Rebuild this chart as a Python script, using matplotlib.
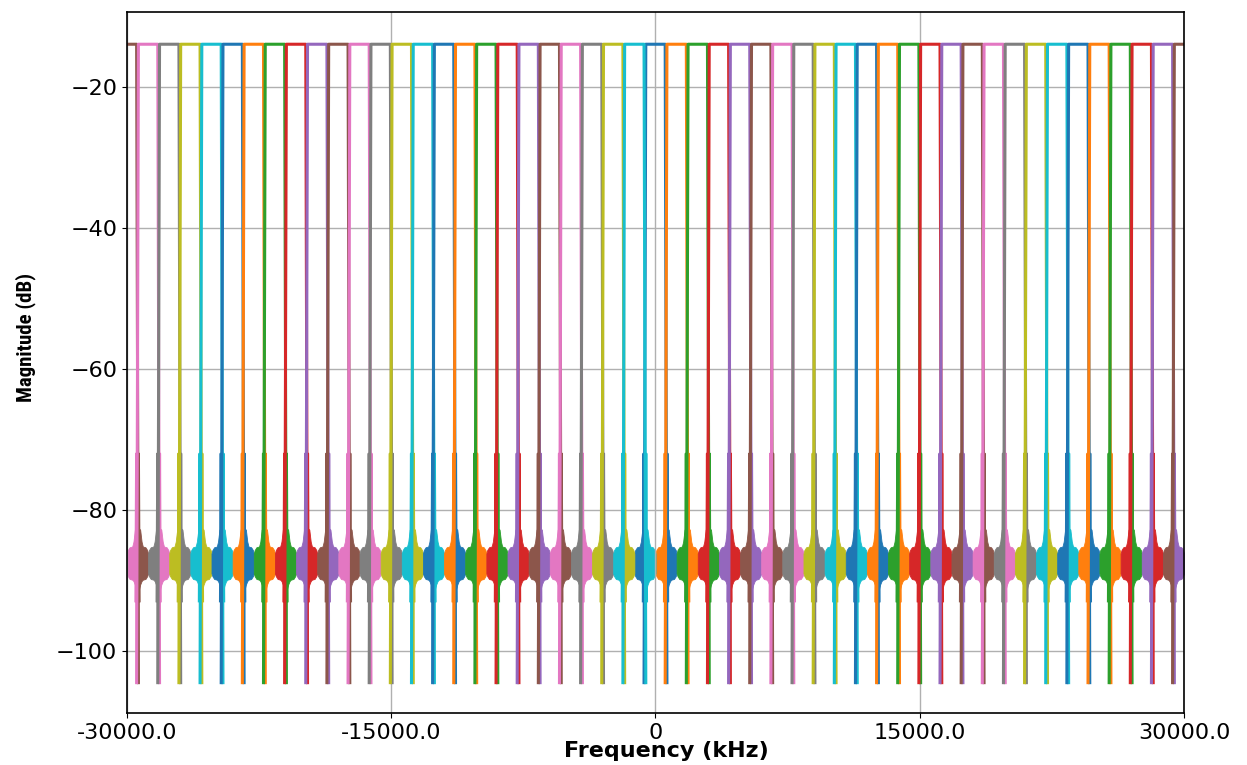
import numpy as np
import matplotlib
matplotlib.use("Agg")
import matplotlib.pyplot as plt

# 50-channel filter bank, 1200 kHz per channel
half_bw_khz = 600.0
passband_db = -13.98
null_db = -104.5

# channel centres in FFT order (channel 25 sits on the +/- fs/2 edge)
channel_centers_khz = [
    0, 1200, 2400, 3600, 4800, 6000, 7200, 8400, 9600, 10800,
    12000, 13200, 14400, 15600, 16800, 18000, 19200, 20400, 21600, 22800,
    24000, 25200, 26400, 27600, 28800, 30000, -28800, -27600, -26400, -25200,
    -24000, -22800, -21600, -20400, -19200, -18000, -16800, -15600, -14400, -13200,
    -12000, -10800, -9600, -8400, -7200, -6000, -4800, -3600, -2400, -1200,
]

# transition: offset from the band edge (kHz, + = outside the band)
edge_offset_khz = [-50, 50]
edge_db = [passband_db, null_db]

# first sidelobe right after the null
sidelobe_offset_khz = [50, 90, 130]
sidelobe_db = [null_db, -72.0, -93.0]

# stop band ripple envelope, by distance from the band edge
stop_offset_khz = [0, 60, 150, 230, 300, 450, 550, 600]
stop_upper_db = [-82.6, -82.6, -82.8, -84.5, -85.2, -85.3, -85.7, -86.2]
stop_lower_db = [-92.0, -91.5, -90.6, -90.1, -89.9, -89.8, -89.4, -89.0]

xticks = [-30000, -15000, 0, 15000, 30000]
xticklabels = ["-30000.0", "-15000.0", "0", "15000.0", "30000.0"]
yticks = [-100, -80, -60, -40, -20]


def draw_channel(ax, c, col):
    eo = half_bw_khz + np.array(edge_offset_khz)
    so = half_bw_khz + np.array(sidelobe_offset_khz)
    st = half_bw_khz + np.array(stop_offset_khz)

    # stop band on both sides
    ax.fill_between(c + st, stop_lower_db, stop_upper_db, color=col, lw=0.6)
    ax.fill_between(c - st, stop_lower_db, stop_upper_db, color=col, lw=0.6)
    ax.plot(c + so, sidelobe_db, color=col, lw=1.2)
    ax.plot(c - so, sidelobe_db, color=col, lw=1.2)

    # pass band with both transitions
    x = np.concatenate([c - eo[::-1], c + eo])
    y = np.concatenate([edge_db[::-1], edge_db])
    ax.plot(x, y, color=col, lw=2.2)


def main():
    fig = plt.figure(figsize=(12.47, 7.65), dpi=100)
    ax = fig.add_axes([0.1018, 0.068, 0.8477, 0.9164])

    for i, c in enumerate(channel_centers_khz):
        col = "C%d" % (i % 10)
        draw_channel(ax, c, col)
        if c == 30000:
            draw_channel(ax, -c, col)

    ax.set_xlim(-30000, 30000)
    ax.set_ylim(-108.8, -9.4)
    ax.set_xticks(xticks)
    ax.set_xticklabels(xticklabels)
    ax.set_yticks(yticks)
    ax.tick_params(labelsize=16)
    ax.grid(True, color="#b0b0b0", lw=1.0)
    for s in ax.spines.values():
        s.set_linewidth(1.2)

    ax.set_xlabel("Frequency (kHz)", fontsize=16, fontweight="bold", va="top")
    ax.xaxis.set_label_coords(0.51, -0.040)
    ax.set_ylabel("Magnitude (dB)", fontsize=15, fontweight="bold",
                  family=["Noto Sans Condensed", "Roboto Condensed",
                          "Liberation Sans Narrow", "Liberation Sans"])
    ax.yaxis.set_label_coords(-0.086, 0.536)

    fig.savefig("out.png", dpi=100)


if __name__ == "__main__":
    main()
